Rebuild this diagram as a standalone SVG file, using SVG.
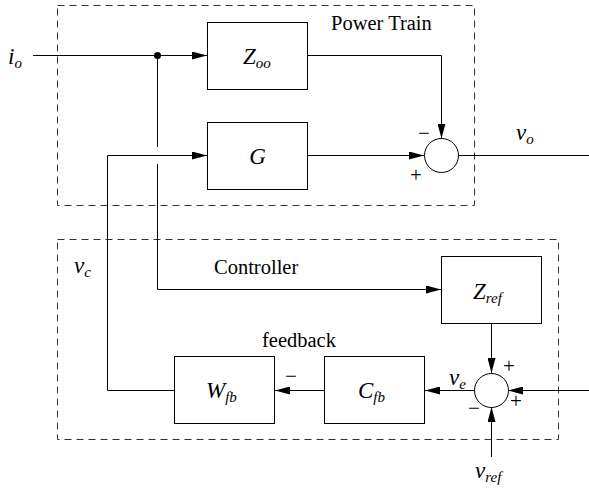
<svg xmlns="http://www.w3.org/2000/svg" width="589" height="491" viewBox="0 0 589 491">
<defs>
<marker id="ah" markerWidth="15" markerHeight="8" refX="15" refY="4" orient="auto" markerUnits="userSpaceOnUse">
<path d="M0,0 L15,4 L0,8 Z" fill="#000"/>
</marker>
<style>
.box{fill:#fff;stroke:#000;stroke-width:1}
.dash{fill:none;stroke:#333;stroke-width:1;stroke-dasharray:7,5}
.ln{fill:none;stroke:#000;stroke-width:1}
.arr{marker-end:url(#ah)}
text{font-family:'Liberation Serif','Times New Roman',serif;fill:#000}
.m{font-style:italic;font-size:23px}
.s{font-size:15px}
.t{font-size:20.5px}
.sg{font-size:21px;text-anchor:middle}
</style>
</defs>
<rect width="589" height="491" fill="#fff"/>
<g id="powertrain-frame"><rect class="dash" x="57.5" y="5.5" width="417" height="200"/><text class="t" x="331" y="30">Power Train</text></g>
<g id="controller-frame"><rect class="dash" x="57.5" y="239.5" width="501" height="200"/><text class="t" x="214" y="274">Controller</text><text class="t" x="262" y="347">feedback</text></g>
<g id="connectors">
<path class="ln arr" d="M33,55.5 H207"/>
<path class="ln" d="M157.5,55.5 V147 M157.5,164 V289.5 H200"/>
<path class="ln arr" d="M200,289.5 H441"/>
<path class="ln arr" d="M307,55.5 H441.5 V138.5"/>
<path class="ln arr" d="M307,155.5 H424"/>
<path class="ln" d="M458,155.5 H589"/>
<path class="ln arr" d="M491.5,323 V373"/>
<path class="ln arr" d="M589,390.5 H508"/>
<path class="ln arr" d="M491.5,457 V407"/>
<path class="ln arr" d="M474,390.5 H425"/>
<path class="ln arr" d="M324,390.5 H275"/>
<path class="ln arr" d="M174,390.5 H107.5 V155.5 H207"/>
<circle id="dot" cx="157.5" cy="55.5" r="3.5" fill="#000"/>
</g>
<g id="Zoo"><rect class="box" x="207.5" y="22.5" width="100" height="67"/><text class="m" x="243" y="64">Z<tspan class="s" dy="4">oo</tspan></text></g>
<g id="G"><rect class="box" x="207.5" y="122.5" width="100" height="67"/><text class="m" x="257.5" y="164" text-anchor="middle">G</text></g>
<g id="sum1"><circle class="box" cx="441.5" cy="155.5" r="17"/><text class="sg" x="424" y="140">−</text><text class="sg" x="416" y="182">+</text></g>
<g id="Zref"><rect class="box" x="441.5" y="256.5" width="100" height="67"/><text class="m" x="473" y="299">Z<tspan class="s" dy="4">ref</tspan></text></g>
<g id="sum2"><circle class="box" cx="491.5" cy="390.5" r="17"/><text class="sg" x="509" y="373">+</text><text class="sg" x="516" y="408">+</text><text class="sg" x="474" y="415">−</text></g>
<g id="Cfb"><rect class="box" x="324.5" y="356.5" width="100" height="67"/><text class="m" x="358" y="398">C<tspan class="s" dy="4">fb</tspan></text><text class="sg" x="291" y="383">−</text></g>
<g id="Wfb"><rect class="box" x="174.5" y="356.5" width="100" height="67"/><text class="m" x="206" y="398">W<tspan class="s" dy="4">fb</tspan></text></g>
<g id="labels">
<text class="m" x="8" y="64">i<tspan class="s" dy="4">o</tspan></text>
<text class="m" x="516" y="140">v<tspan class="s" dy="4">o</tspan></text>
<text class="m" x="74" y="273">v<tspan class="s" dy="4">c</tspan></text>
<text class="m" x="449" y="385">v<tspan class="s" dy="4">e</tspan></text>
<text class="m" x="475" y="478">v<tspan class="s" dy="4">ref</tspan></text>
</g>
</svg>
